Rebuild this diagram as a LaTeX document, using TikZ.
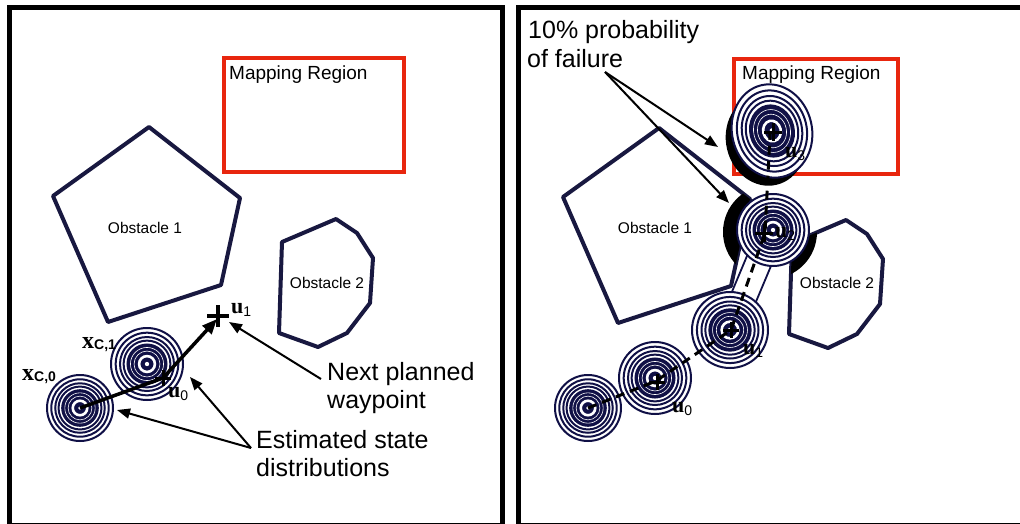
\documentclass[tikz,border=0pt]{standalone}
\usepackage{fontspec}
\setmainfont{Liberation Sans}
\newfontfamily\tms{Liberation Serif}
\newfontfamily\arl{Liberation Sans}
\usetikzlibrary{arrows.meta}
\definecolor{navy}{RGB}{16,16,70}
\definecolor{obstc}{RGB}{24,24,64}
\definecolor{mapred}{RGB}{232,38,14}
\newcommand\mysubu[1]{\raisebox{-3pt}{\fontsize{14}{14}\arl\mdseries #1}}
\newcommand\mysubx[1]{\raisebox{-1pt}{\fontsize{14}{14}\arl\bfseries #1}}
\newcommand\gaussbody[1]{%
  \fill[white] (0,0) circle[radius=#1];
  \foreach \f in {1,0.87,0.75,0.65}{\draw[ring] (0,0) circle[radius=\f*#1];}
  \fill[navy] (0,0) circle[radius=0.57*#1];
  \foreach \f in {0.46,0.36}{\draw[white,line width=0.6pt] (0,0) circle[radius=\f*#1];}
  \draw[white,line width=2.6pt] (0,0) circle[radius=0.22*#1];
  \fill[white] (0,0) circle[radius=0.06*#1];
}
\newcommand\gaussat[3]{\begin{scope}[shift={(#1,#2)}]\gaussbody{#3}\end{scope}}
\newcommand\crossat[4]{\draw[crs,line width=#4] (#1-#3,#2) -- (#1+#3,#2) (#1,#2-#3) -- (#1,#2+#3);}
\begin{document}
\begin{tikzpicture}[x=1pt,y=-1pt,
  frame/.style={draw=black,line width=5pt},
  mapbox/.style={draw=mapred,line width=4pt},
  obst/.style={draw=obstc,line width=4pt,line join=round},
  lab/.style={inner sep=0pt,anchor=base west,font=\fontsize{25}{29}\selectfont},
  maplab/.style={inner sep=0pt,anchor=base west,font=\fontsize{19}{22}\selectfont},
  obslab/.style={inner sep=0pt,font=\fontsize{15.5}{18}\selectfont},
  ulab/.style={inner sep=0pt,anchor=base west,font=\fontsize{22}{24}\tms\bfseries},
  xlab/.style={inner sep=0pt,anchor=base west,font=\fontsize{24}{26}\tms\bfseries},
  thinarr/.style={draw=black,line width=2pt,-{Triangle[length=13pt,width=10pt]}},
  thickarr/.style={draw=black,line width=3.5pt,-{Triangle[length=15pt,width=12pt]}},
  dashpath/.style={draw=black,line width=3pt,dash pattern=on 9pt off 6pt},
  crs/.style={draw=black},
  ring/.style={draw=navy,line width=2pt},
  corr/.style={fill=white,draw=navy,line width=1.8pt},
]
\useasboundingbox (0,0) rectangle (1020,523);
\clip (0,0) rectangle (1020,523);
\fill[white] (0,0) rectangle (1020,523);

% ---------------- left panel ----------------
\draw[frame] (9.5,7) rectangle (502,525);
\draw[mapbox] (224,58) rectangle (404,172);
\node[maplab] (map1) at (229,79) {Mapping Region};
\draw[obst] (149,127) -- (240,198) -- (221,285) -- (108,322) -- (53,196) -- cycle;
\node[obslab] (ob1a) at (145,228) {Obstacle 1};
\draw[obst] (282,242) -- (336,219) -- (357,233) -- (373,258) -- (370,303) -- (347,333) -- (318,347) -- (279,333) -- cycle;
\node[obslab] (ob2a) at (327,283) {Obstacle 2};
\gaussat{80}{408}{33}
\gaussat{147}{364}{36}
\coordinate (xc0) at (80,408);
\coordinate (u0a) at (163,378);
\coordinate (u1a) at (217,319);
\draw[thickarr] (xc0) -- (u0a) -- (u1a);
\crossat{163}{378}{8}{3pt}
\crossat{218}{316}{11}{4pt}
\node[ulab] (u1l) at (231,313) {u\mysubu{1}};
\node[ulab] (u0l) at (168,397) {u\mysubu{0}};
\node[xlab] (x0l) at (22,380) {x\mysubx{C,0}};
\node[xlab] (x1l) at (82,348) {x\mysubx{C,1}};
\node[lab] (np1) at (327,380) {Next planned};
\node[lab] (np2) at (327,408) {waypoint};
\node[lab] (es1) at (256,448) {Estimated state};
\node[lab] (es2) at (256,476) {distributions};
\coordinate (nps) at (321,379);
\coordinate (u1t) at (229,322);
\draw[thinarr] (nps) -- (u1t);
\coordinate (ess) at (251,448);
\coordinate (est1) at (190,377);
\coordinate (est0) at (117,410);
\draw[thinarr] (ess) -- (est1);
\draw[thinarr] (ess) -- (est0);

% ---------------- right panel ----------------
\draw[frame] (518,7) rectangle (1030,525);
\draw[mapbox] (734,59) rectangle (898,174);
\draw[obst] (659,128) -- (750,199) -- (731,286) -- (618,323) -- (563,197) -- cycle;
\node[obslab] (ob1b) at (655,228) {Obstacle 1};
\draw[obst] (792,243) -- (846,220) -- (867,234) -- (883,259) -- (880,304) -- (857,334) -- (828,348) -- (789,334) -- cycle;
\node[obslab] (ob2b) at (837,283) {Obstacle 2};
\begin{scope}
  \clip (659,128) -- (750,199) -- (731,286) -- (618,323) -- (563,197) -- cycle;
  \fill[black] (770,232) circle[radius=47];
\end{scope}
\begin{scope}
  \clip (792,243) -- (846,220) -- (867,234) -- (883,259) -- (880,304) -- (857,334) -- (828,348) -- (789,334) -- cycle;
  \fill[black] (770,232) circle[radius=47];
\end{scope}
\begin{scope}[shift={(766,140)},rotate=13,yscale=1.15]
  \fill[black] (0,0) circle[radius=40];
\end{scope}
\draw[corr] (718,325) -- (760,225) -- (784,235) -- (742,335) -- cycle;
\gaussat{588}{408}{33}
\gaussat{655}{378}{36}
\gaussat{730}{330}{38}
\gaussat{773}{230}{36}
\begin{scope}[shift={(772,131)},rotate=13,yscale=1.175]
  \gaussbody{40}
\end{scope}
\coordinate (p0) at (588,408);
\coordinate (p1) at (656,381);
\coordinate (p2) at (731,330);
\coordinate (p3) at (765,233);
\coordinate (p4) at (770,134);
\draw[dashpath] (p0) -- (p1) -- (p2) -- (p3) -- (p4);
\crossat{657}{382}{8}{3pt}
\crossat{731}{330}{8}{3pt}
\crossat{764}{233}{9}{3pt}
\crossat{773}{132}{9}{3pt}
\node[ulab] (v0l) at (672,412) {u\mysubu{0}};
\node[ulab] (v1l) at (743,354) {u\mysubu{1}};
\node[ulab] (v2l) at (775,237) {u\mysubu{2}};
\node[ulab] (v3l) at (785,157) {u\mysubu{3}};
\node[maplab] (map2) at (742,79) {Mapping Region};
\node[lab] (pf1) at (528,38) {10\% probability};
\node[lab] (pf2) at (527,67) {of failure};
\coordinate (fs) at (605,72);
\coordinate (ft1) at (718,147);
\coordinate (ft2) at (729,203);
\draw[thinarr] (fs) -- (ft1);
\draw[thinarr] (fs) -- (ft2);
\end{tikzpicture}
\end{document}
